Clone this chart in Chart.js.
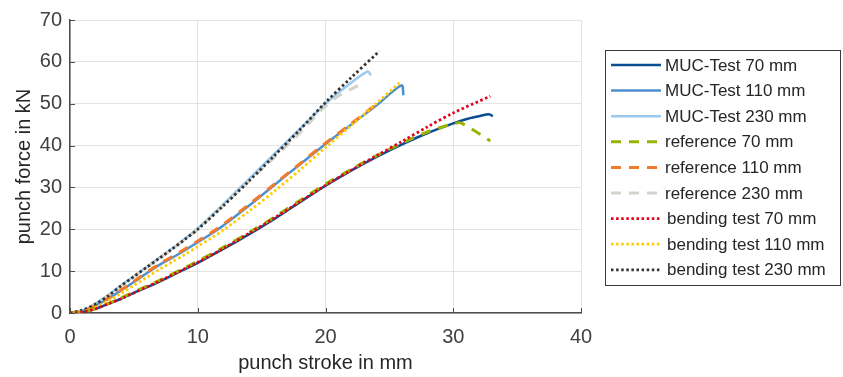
<!DOCTYPE html>
<html>
<head>
    <meta charset="utf-8">
    <title>Punch force vs punch stroke</title>
    <script src="https://cdn.jsdelivr.net/npm/chart.js"></script>
    <style>
        html, body { margin: 0; padding: 0; background: #fff; }
        .box { width: 843px; height: 377px; }
    </style>
</head>
<body>
<div class="box">
    <canvas id="forceChart" width="843" height="377"></canvas>
</div>
<script>
// punch stroke in mm / punch force in kN
const mucTest70 = [[0,0],[1,0.2],[2,1],[3,2.2],[4,3.4],[5,4.8],[6,6.1],[7,7.5],[8,9],[9,10.5],[10,12],[12,15.3],[14,18.8],[16,22.5],[18,26.5],[20,30.4],[22,34],[24,37.3],[26,40.3],[28,43],[30,45.3],[31,46.3],[32,47],[32.8,47.5],[33.1,47.0]];
const mucTest110 = [[0,0],[1,0.4],[2,1.8],[3,3.4],[4,5.4],[5,7.4],[6,9.5],[7,11.5],[8,13.2],[9,15],[10,16.9],[11,18.8],[12,20.9],[14,25.6],[16,30.6],[18,35.5],[20,40.4],[22,45],[24,49.6],[25.95,54.4],[26.1,52]];
const mucTest230 = [[0,0],[1,0.6],[2,2.3],[3,4.3],[4,6.6],[5,8.8],[6,11],[7,13.2],[8,15.4],[9,17.8],[10,20.2],[12,26],[14,32],[16,38],[18,44],[20,50],[21.5,53.8],[23.3,57.7],[23.55,56.8]];
const reference70 = [[0,0],[1,0.2],[2,1.1],[3,2.3],[4,3.6],[5,5],[6,6.4],[7,7.8],[8,9.3],[9,10.8],[10,12.4],[12,15.7],[14,19.2],[16,22.9],[18,26.9],[20,30.8],[22,34.3],[24,37.6],[26,40.6],[28,43.3],[30,45.2],[30.6,45.4],[32.9,41.1]];
const reference110 = [[0,0],[1,0.4],[2,1.8],[3,3.5],[4,5.5],[5,7.6],[6,9.7],[7,11.7],[8,13.5],[9,15.3],[10,17.2],[11,19.1],[12,21.2],[14,25.9],[16,30.8],[18,35.7],[20,40.6],[22,45.2],[23.9,49.7]];
const reference230 = [[0,0],[1,0.6],[2,2.2],[3,4.2],[4,6.5],[5,8.7],[6,10.9],[7,13.1],[8,15.3],[9,17.6],[10,20],[12,25.7],[14,31.5],[16,37.2],[18,43],[19.8,48.9],[21.1,52],[22.6,54.4]];
const bending70 = [[0,0],[1,0.2],[2,1],[3,2.2],[4,3.4],[5,4.8],[6,6.2],[7,7.6],[8,9.1],[9,10.6],[10,12.1],[12,15.4],[14,19],[16,22.7],[18,26.6],[20,30.5],[22,34.1],[24,37.6],[26,41],[28,44.5],[30,47.8],[32.9,51.8]];
const bending110 = [[0,0],[1,0.3],[2,1.4],[3,2.9],[4,4.7],[5,6.6],[6,8.5],[7,10.4],[8,12.2],[9,14],[10,15.9],[11,17.8],[12,19.8],[14,24.3],[16,29.1],[18,34.2],[20,39.5],[22,44.8],[24,50.1],[25.9,55.3]];
const bending230 = [[0,0],[1,0.7],[2,2.1],[3,4.1],[4,6.5],[5,8.7],[6,10.9],[7,13.1],[8,15.3],[9,17.6],[10,20],[12,25.6],[14,31.5],[16,37.6],[18,43.8],[20,50.3],[22,56.2],[24.2,62.5]];

const xTicks = [0, 10, 20, 30, 40];
const yTicks = [0, 10, 20, 30, 40, 50, 60, 70];

const FONT = "'Liberation Sans', Arial, sans-serif";

function toPoints(arr) {
    return arr.map(p => ({ x: p[0], y: p[1] }));
}

function line(label, data, color, kind, order) {
    const ds = {
        label: label,
        data: toPoints(data),
        borderColor: color,
        backgroundColor: color,
        pointRadius: 0,
        tension: 0.3,
        fill: false,
        order: order,
        borderWidth: 2.5
    };
    if (kind === 'dash') {
        ds.borderDash = [10, 8];
        ds.borderWidth = 3;
    } else if (kind === 'dot') {
        ds.borderDash = [2.5, 2.6];
        ds.borderWidth = 2.8;
    }
    return ds;
}

// legend box with border, MATLAB style
const boxLegend = {
    id: 'boxLegend',
    afterDraw(chart) {
        const ctx = chart.ctx;
        ctx.save();
        ctx.strokeStyle = '#3a3a3a';
        ctx.lineWidth = 1;
        ctx.strokeRect(605.5, 50.5, 235, 235);
        ctx.font = '17px ' + FONT;
        ctx.textBaseline = 'middle';
        ctx.fillStyle = '#262626';
        chart.data.datasets.forEach((ds, i) => {
            const y = 65 + i * 25.6;
            ctx.save();
            ctx.strokeStyle = ds.borderColor;
            ctx.lineWidth = ds.borderWidth;
            ctx.setLineDash(ds.borderDash || []);
            ctx.beginPath();
            ctx.moveTo(611, y);
            ctx.lineTo(661, y);
            ctx.stroke();
            ctx.restore();
            ctx.fillText(ds.label, i >= 6 ? 667 : 665, y + 1);
        });
        ctx.restore();
    }
};

// inward tick marks
const innerTicks = {
    id: 'innerTicks',
    afterDraw(chart) {
        const ctx = chart.ctx;
        const xs = chart.scales.x, ys = chart.scales.y;
        ctx.save();
        ctx.strokeStyle = '#4d4d4d';
        ctx.lineWidth = 1;
        ctx.beginPath();
        xTicks.forEach(v => {
            const px = Math.round(xs.getPixelForValue(v)) + 0.5;
            ctx.moveTo(px, ys.bottom);
            ctx.lineTo(px, ys.bottom - 5);
        });
        yTicks.forEach(v => {
            const py = Math.round(ys.getPixelForValue(v)) + 0.5;
            ctx.moveTo(xs.left, py);
            ctx.lineTo(xs.left + 5, py);
        });
        ctx.stroke();
        ctx.restore();
    }
};

new Chart(document.getElementById('forceChart'), {
    type: 'line',
    data: {
        datasets: [
            line('MUC-Test 70 mm', mucTest70, '#0b4d93', 'solid', 3),
            line('MUC-Test 110 mm', mucTest110, '#4e8fcf', 'solid', 3),
            line('MUC-Test 230 mm', mucTest230, '#9ccaef', 'solid', 3),
            line('reference 70 mm', reference70, '#9cb200', 'dash', 2),
            line('reference 110 mm', reference110, '#f27a2c', 'dash', 2),
            line('reference 230 mm', reference230, '#d3d3cb', 'dash', 2),
            line('bending test 70 mm', bending70, '#e3001b', 'dot', 1),
            line('bending test 110 mm', bending110, '#ffcc00', 'dot', 1),
            line('bending test 230 mm', bending230, '#333333', 'dot', 1)
        ]
    },
    options: {
        responsive: false,
        animation: false,
        layout: { padding: { top: 20, right: 262, left: 0, bottom: 0 } },
        plugins: {
            legend: { display: false },
            tooltip: { enabled: false }
        },
        scales: {
            x: {
                type: 'linear',
                min: 0,
                max: 40,
                afterBuildTicks: s => { s.ticks = xTicks.map(v => ({ value: v })); },
                afterFit: s => { s.height = 64; },
                grid: { color: '#e3e3e3', drawTicks: false },
                border: { color: '#4d4d4d', width: 1.5 },
                ticks: { color: '#404040', font: { family: FONT, size: 20 }, padding: 12, maxRotation: 0 },
                title: { display: true, text: 'punch stroke in mm', color: '#262626', font: { family: FONT, size: 20 }, padding: { top: 2, bottom: 2 } }
            },
            y: {
                type: 'linear',
                min: 0,
                max: 70,
                afterBuildTicks: s => { s.ticks = yTicks.map(v => ({ value: v })); },
                afterFit: s => { s.width = 70; },
                grid: { color: '#e3e3e3', drawTicks: false },
                border: { color: '#4d4d4d', width: 1.5 },
                ticks: { color: '#404040', font: { family: FONT, size: 20 }, padding: 8 },
                title: { display: true, text: 'punch force in kN', color: '#262626', font: { family: FONT, size: 20 }, padding: { top: 12, bottom: 0 } }
            }
        }
    },
    plugins: [boxLegend, innerTicks]
});
</script>
</body>
</html>
